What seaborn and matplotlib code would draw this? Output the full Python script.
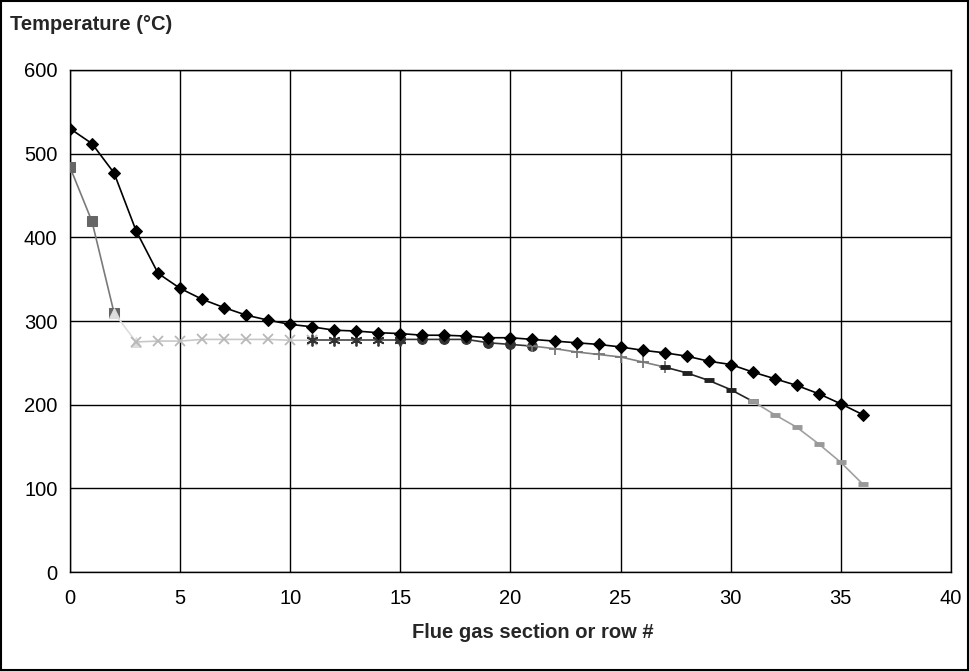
import matplotlib
matplotlib.use("Agg")
import matplotlib.pyplot as plt
import seaborn as sns
import pandas as pd
from matplotlib.patches import Rectangle

# ---- data ----
rows = list(range(37))
flue_gas = [530, 512, 477, 408, 357, 339, 326, 316, 307, 301, 296, 293, 289, 288,
            286, 285, 283, 283, 282, 280, 280, 278, 276, 274, 272, 269, 265, 262,
            258, 252, 248, 239, 231, 223, 213, 201, 188]

seg1_rows = [0, 1, 2]
seg1_vals = [484, 419, 310]
seg2_rows = [2, 3]
seg2_vals = [310, 275]
seg3_rows = [3, 4, 5, 6, 7, 8, 9, 10, 11]
seg3_vals = [275, 276, 276, 278, 278, 278, 278, 277, 277]
seg4_rows = [11, 12, 13, 14, 15]
seg4_vals = [277, 277, 277, 277, 277]
seg5_rows = [15, 16, 17, 18, 19, 20, 21]
seg5_vals = [278, 278, 278, 278, 274, 272, 270]
seg6_rows = [21, 22, 23, 24, 25, 26, 27]
seg6_vals = [270, 267, 263, 260, 257, 251, 245]
seg7_rows = [27, 28, 29, 30, 31]
seg7_vals = [245, 238, 229, 218, 204]
seg8_rows = [31, 32, 33, 34, 35, 36]
seg8_vals = [204, 188, 173, 153, 131, 105]

x_ticks = [0, 5, 10, 15, 20, 25, 30, 35, 40]
y_ticks = [0, 100, 200, 300, 400, 500, 600]

sns.set_style("white")
plt.rcParams['font.family'] = ['Liberation Sans', 'DejaVu Sans']

fig = plt.figure(figsize=(9.69, 6.71), dpi=100)
ax = fig.add_axes([0.0722, 0.1475, 0.9814 - 0.0722, 0.8957 - 0.1475])

segments = [
    (seg1_rows, seg1_vals, dict(color="#7a7a7a", marker="s", markersize=7,
                                markerfacecolor="#666666", markeredgecolor="#666666")),
    (seg2_rows, seg2_vals, dict(color="#dddddd", marker="^", markersize=7,
                                markerfacecolor="#dddddd", markeredgecolor="#dddddd")),
    (seg3_rows, seg3_vals, dict(color="#c8c8c8", marker="x", markersize=7,
                                markeredgewidth=1.3, markeredgecolor="#b8b8b8")),
    (seg4_rows, seg4_vals, dict(color="#444444", marker=(6, 2, 0), markersize=8.5,
                                markeredgewidth=1.3, markeredgecolor="#333333")),
    (seg5_rows, seg5_vals, dict(color="#333333", marker="o", markersize=7,
                                markerfacecolor="#333333", markeredgecolor="#333333")),
    (seg6_rows, seg6_vals, dict(color="#808080", marker="+", markersize=8.5,
                                markeredgewidth=1.3, markeredgecolor="#777777")),
    (seg7_rows, seg7_vals, dict(color="#222222", marker="_", markersize=6.5,
                                markeredgewidth=3.5, markeredgecolor="#222222")),
    (seg8_rows, seg8_vals, dict(color="#a0a0a0", marker="_", markersize=7.5,
                                markeredgewidth=3.5, markeredgecolor="#999999")),
]

for r, v, style in segments:
    df = pd.DataFrame({"row": r, "temp": v})
    sns.lineplot(data=df, x="row", y="temp", ax=ax, linewidth=1.2, zorder=3, **style)

df_fg = pd.DataFrame({"row": rows, "temp": flue_gas})
sns.lineplot(data=df_fg, x="row", y="temp", ax=ax, color="black", linewidth=1.2,
             marker="D", markersize=6.5, markerfacecolor="black", markeredgecolor="black",
             zorder=4)

ax.set_xlim(0, 40)
ax.set_ylim(0, 600)
ax.set_xticks(x_ticks)
ax.set_yticks(y_ticks)
ax.grid(True, color="black", linewidth=1.0)
ax.set_axisbelow(True)
for s in ax.spines.values():
    s.set_color("black")
    s.set_linewidth(1.0)
ax.tick_params(axis="both", which="major", direction="out", length=5, width=1,
               color="black", labelsize=14.5, labelcolor="black", pad=4)
ax.tick_params(axis="x", pad=7)
ax.set_xlabel("")
ax.set_ylabel("")

fig.text(533 / 969, 1 - 633 / 671, "Flue gas section or row #", fontsize=14.5,
         fontweight="bold", ha="center", va="center")
fig.text(10 / 969, 1 - 25 / 671, "Temperature (°C)", fontsize=14.5, fontweight="bold",
         ha="left", va="center")

fig.patches.append(Rectangle((0.001, 0.001), 0.998, 0.998, transform=fig.transFigure,
                             fill=False, edgecolor="black", linewidth=1.5))

fig.savefig("out.png", dpi=100)
